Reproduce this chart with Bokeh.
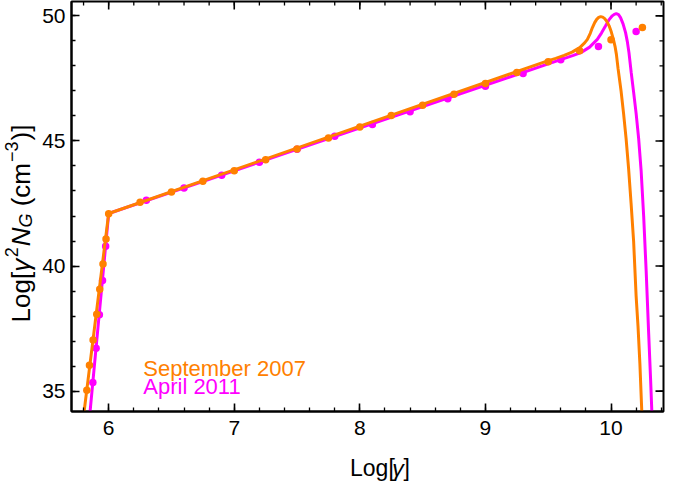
import numpy as np
from bokeh.plotting import figure
from bokeh.models import Label, LinearAxis, FixedTicker, Range1d
from bokeh.layouts import row, column
from bokeh.embed import file_html
from bokeh.resources import INLINE

# ---------------- data ----------------
# September 2007 data points
sep_x = [5.826, 5.847, 5.876, 5.905, 5.929, 5.955, 5.979, 6.0, 6.25, 6.5, 6.75, 7.0,
         7.25, 7.5, 7.75, 8.0, 8.25, 8.5, 8.75, 9.0, 9.25, 9.5, 9.75, 10.0, 10.25]
sep_y = [35.04, 36.04, 37.04, 38.07, 39.07, 40.08, 41.08, 42.09, 42.55, 42.96, 43.39, 43.81,
         44.25, 44.68, 45.12, 45.56, 46.02, 46.43, 46.87, 47.30, 47.74, 48.17, 48.60, 49.04, 49.53]
# April 2011 data points
apr_x = [5.874, 5.900, 5.926, 5.951, 5.976, 6.3, 6.6, 6.9, 7.2, 7.5, 7.8, 8.1, 8.4,
         8.7, 9.0, 9.3, 9.6, 9.9, 10.2]
apr_y = [35.35, 36.71, 38.05, 39.42, 40.79, 42.63, 43.12, 43.63, 44.15, 44.67, 45.19, 45.66,
         46.17, 46.69, 47.19, 47.70, 48.24, 48.77, 49.37]

# September 2007 fitted curve
sep_fit_x = [5.79, 6.0, 9.495, 9.56, 9.627, 9.69, 9.751, 9.79, 9.812, 9.835, 9.852, 9.870,
             9.886, 9.902, 9.918, 9.934, 9.950, 9.968, 9.985, 10.002, 10.019, 10.032, 10.043,
             10.056, 10.08, 10.10, 10.12, 10.14, 10.16, 10.18, 10.20, 10.215, 10.23, 10.245, 10.26]
sep_fit_y = [33.6, 42.1, 48.20, 48.30, 48.42, 48.55, 48.73, 48.92, 49.06, 49.30, 49.53, 49.73,
             49.86, 49.94, 49.97, 49.95, 49.89, 49.77, 49.60, 49.36, 49.06, 48.78, 48.46,
             47.9, 47.0, 46.1, 45.1, 43.9, 42.5, 41.0, 38.8, 37.6, 36.1, 34.2, 32.0]
# April 2011 fitted curve
apr_fit_x = [5.841, 6.0, 9.5, 9.6, 9.7, 9.76, 9.83, 9.891, 9.925, 9.957, 9.985, 10.010,
             10.026, 10.042, 10.06, 10.076, 10.096, 10.116, 10.13, 10.143, 10.161, 10.18,
             10.20, 10.22, 10.24, 10.26, 10.28, 10.30, 10.315, 10.325, 10.335]
apr_fit_y = [33.6, 42.1, 48.08, 48.25, 48.42, 48.53, 48.75, 49.06, 49.32, 49.60, 49.85, 50.00,
             50.06, 50.09, 50.05, 49.93, 49.68, 49.33, 48.97, 48.53, 47.73, 46.95,
             46.1, 45.1, 43.8, 42.0, 39.8, 37.3, 35.5, 34.2, 32.8]

x_ticks = [6, 7, 8, 9, 10]
y_ticks = [35, 40, 45, 50]
x_minor = [round(v * 0.2, 1) for v in range(28, 53)]
y_minor = list(range(34, 51))
series_names = ["September 2007", "April 2011"]

ORANGE = "#FF8000"
MAGENTA = "#FF00FF"
FONT = "Liberation Sans"
TICK_FS = 21

# ---------------- layout (page px) ----------------
TOTAL_W, TOTAL_H = 667, 481
LW = 39                      # strip that holds the y title
MW = TOTAL_W - LW            # main figure width
PH = 445                     # main figure height
BH = TOTAL_H - PH            # strip that holds the x title
ML, MR, MT, MB = 30, 4, 1, 34
FW, FH = MW - ML - MR, PH - MT - MB
x0, x1 = 5.704, 10.418
y0, y1 = 34.187, 50.573

p = figure(width=MW, height=PH, x_range=Range1d(x0, x1), y_range=Range1d(y0, y1),
           output_backend="svg", toolbar_location=None,
           min_border_left=ML, min_border_right=MR, min_border_top=MT, min_border_bottom=MB,
           x_axis_location=None, y_axis_location=None)
p.grid.visible = False
p.outline_line_color = "black"
p.outline_line_width = 2
p.background_fill_color = "white"
p.border_fill_color = "white"


def style_axis(ax):
    ax.axis_line_width = 2
    ax.axis_line_color = "black"
    ax.major_tick_in = 8
    ax.major_tick_out = 0
    ax.minor_tick_in = 4
    ax.minor_tick_out = 0
    ax.major_tick_line_width = 1.6
    ax.minor_tick_line_width = 1.3
    ax.major_tick_line_color = "black"
    ax.minor_tick_line_color = "black"
    ax.major_label_text_font = FONT
    ax.major_label_text_font_size = f"{TICK_FS}px"
    ax.major_label_text_color = "black"


bx = LinearAxis(ticker=FixedTicker(ticks=x_ticks, minor_ticks=x_minor))
style_axis(bx)
bx.major_label_standoff = 9
p.add_layout(bx, "below")

ly = LinearAxis(ticker=FixedTicker(ticks=y_ticks, minor_ticks=y_minor))
style_axis(ly)
ly.major_label_standoff = 6
p.add_layout(ly, "left")

# inward ticks on the top and right frame edges (half of each dash is clipped away)
p.scatter(x_ticks, [y1] * len(x_ticks), marker="dash", angle=np.pi / 2, size=16,
          line_color="black", line_width=1.6)
p.scatter(x_minor, [y1] * len(x_minor), marker="dash", angle=np.pi / 2, size=8,
          line_color="black", line_width=1.3)
p.scatter([x1] * len(y_ticks), y_ticks, marker="dash", size=16,
          line_color="black", line_width=1.6)
p.scatter([x1] * len(y_minor), y_minor, marker="dash", size=8,
          line_color="black", line_width=1.3)

# ---------------- marks ----------------
p.line(apr_fit_x, apr_fit_y, line_color=MAGENTA, line_width=3)
p.scatter(apr_x, apr_y, size=7.5, fill_color=MAGENTA, line_color=None)
p.line(sep_fit_x, sep_fit_y, line_color=ORANGE, line_width=3)
p.scatter(sep_x, sep_y, size=7.5, fill_color=ORANGE, line_color=None)


# page pixel -> data helpers for text placement in the main figure
def dx(page_x):
    return x0 + (page_x - 8 - LW - ML) * (x1 - x0) / FW


def dy(page_y):
    return y1 - (page_y - 8 - MT) * (y1 - y0) / FH


LEG_FS = 22
p.add_layout(Label(x=dx(149), y=dy(376), text=series_names[0], text_color=ORANGE,
                   text_font=FONT, text_font_size=f"{LEG_FS}px", text_baseline="middle"))
p.add_layout(Label(x=dx(149), y=dy(394), text=series_names[1], text_color=MAGENTA,
                   text_font=FONT, text_font_size=f"{LEG_FS}px", text_baseline="middle"))

# ---------------- y title strip: Log[γ²N_G (cm⁻³)] ----------------
lf = figure(width=LW, height=TOTAL_H, x_range=Range1d(0, LW), y_range=Range1d(TOTAL_H, 0),
            output_backend="svg", toolbar_location=None, min_border_left=0,
            min_border_right=0, min_border_top=0, min_border_bottom=0,
            x_axis_location=None, y_axis_location=None)
lf.grid.visible = False
lf.outline_line_color = None

S, s = 26, 18
pieces = [  # text, size, italic, shift(px, + = superscript), advance (em/1000), gap before
    ("Log[", S, False, 0, 1946, 0),
    ("γ", S, True, 0, 520, 0),
    ("2", s, False, 9, 556, 1),
    ("N", S, True, 0, 722, 1),
    ("G", s, True, -5, 778, 0),
    ("(cm", S, False, 0, 1666, 278 * S / 1000),
    ("−3", s, False, 9, 1140, 1),
    (")]", S, False, 0, 611, 1),
]
total = sum(w * sz / 1000 + g for _, sz, _, _, w, g in pieces)
base_x = 28 - 8           # baseline, in strip px
start_y = 231 - 8 + total / 2
pos = 0.0
for txt, sz, it, sh, w, g in pieces:
    pos += g
    lf.add_layout(Label(x=base_x - sh, y=start_y - pos, text=txt, angle=np.pi / 2,
                        text_font=FONT, text_font_size=f"{sz}px",
                        text_font_style="italic" if it else "normal",
                        text_align="left", text_baseline="alphabetic", text_color="black"))
    pos += w * sz / 1000

# ---------------- x title strip: Log[γ] ----------------
bf = figure(width=MW, height=BH, x_range=Range1d(0, MW), y_range=Range1d(BH, 0),
            output_backend="svg", toolbar_location=None, min_border_left=0,
            min_border_right=0, min_border_top=0, min_border_bottom=0,
            x_axis_location=None, y_axis_location=None)
bf.grid.visible = False
bf.outline_line_color = None

XS = 23
xpieces = [("Log[", False, 1946), ("γ", True, 520), ("]", False, 278)]
xtotal = sum(w * XS / 1000 for _, _, w in xpieces)
cx = (77 + 671) / 2 - 8 - LW
xpos = cx - xtotal / 2
base_y = 475 - 8 - PH
for txt, it, w in xpieces:
    bf.add_layout(Label(x=xpos, y=base_y, text=txt, text_font=FONT,
                        text_font_size=f"{XS}px",
                        text_font_style="italic" if it else "normal",
                        text_align="left", text_baseline="alphabetic", text_color="black"))
    xpos += w * XS / 1000

layout = row(lf, column(p, bf))
open("out.html", "w").write(file_html(layout, INLINE))
